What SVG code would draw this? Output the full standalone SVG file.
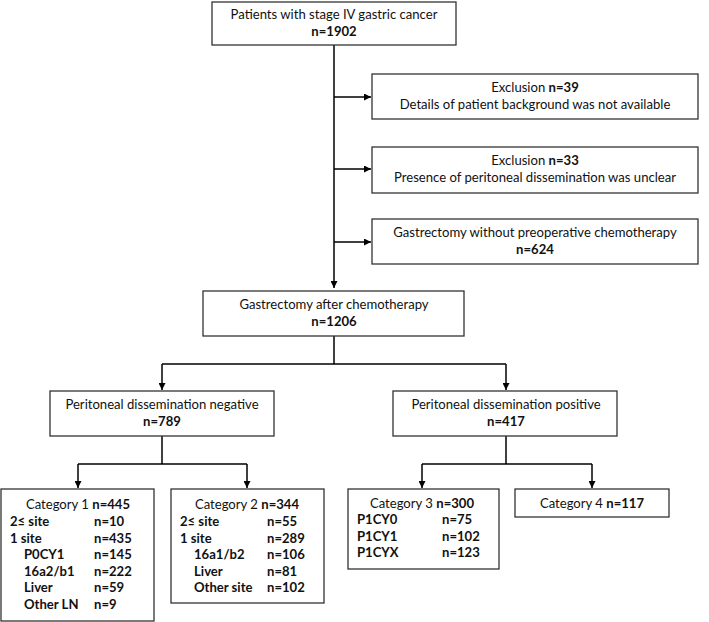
<svg xmlns="http://www.w3.org/2000/svg" width="709" height="622" viewBox="0 0 709 622">
<defs>
<marker id="ah" viewBox="0 0 10 10" refX="10" refY="5" markerWidth="7" markerHeight="7" markerUnits="userSpaceOnUse" orient="auto"><path d="M0,0 L10,5 L0,10 z" fill="#000"/></marker>
<style>
.box{fill:#fff;stroke:#333;stroke-width:1.3}
.ln{fill:none;stroke:#000;stroke-width:1.5}
text{font-family:Lato,"Open Sans",sans-serif;font-size:13.1px;fill:#111}
.c{text-anchor:middle}
.b{font-weight:bold}
</style>
</defs>
<g id="connectors">
<path class="ln" d="M334,45 V288" marker-end="url(#ah)"/>
<path class="ln" d="M334,97 H371" marker-end="url(#ah)"/>
<path class="ln" d="M334,169 H371" marker-end="url(#ah)"/>
<path class="ln" d="M334,242 H371" marker-end="url(#ah)"/>
<path class="ln" d="M334,336 V364"/>
<path class="ln" d="M162,364 H506"/>
<path class="ln" d="M162,364 V390" marker-end="url(#ah)"/>
<path class="ln" d="M506,364 V390" marker-end="url(#ah)"/>
<path class="ln" d="M162,436 V464"/>
<path class="ln" d="M78,464 H247"/>
<path class="ln" d="M78,464 V488" marker-end="url(#ah)"/>
<path class="ln" d="M247,464 V488" marker-end="url(#ah)"/>
<path class="ln" d="M506,436 V464"/>
<path class="ln" d="M422,464 H592"/>
<path class="ln" d="M422,464 V488" marker-end="url(#ah)"/>
<path class="ln" d="M592,464 V488" marker-end="url(#ah)"/>
</g>
<g id="n_top">
<rect class="box" x="212" y="2" width="244" height="43"/>
<text class="c" x="334" y="19">Patients with stage IV gastric cancer</text>
<text class="c b" x="334" y="36">n=1902</text>
</g>
<g id="n_excl1">
<rect class="box" x="372" y="74" width="326" height="45"/>
<text class="c" x="535" y="92">Exclusion <tspan class="b">n=39</tspan></text>
<text class="c" x="535" y="109">Details of patient background was not available</text>
</g>
<g id="n_excl2">
<rect class="box" x="372" y="147" width="326" height="46"/>
<text class="c" x="535" y="165">Exclusion <tspan class="b">n=33</tspan></text>
<text class="c" x="535" y="182">Presence of peritoneal dissemination was unclear</text>
</g>
<g id="n_nochemo">
<rect class="box" x="372" y="219" width="326" height="45"/>
<text class="c" x="535" y="237">Gastrectomy without preoperative chemotherapy</text>
<text class="c b" x="535" y="254">n=624</text>
</g>
<g id="n_after">
<rect class="box" x="203" y="291" width="261" height="45"/>
<text class="c" x="334" y="309">Gastrectomy after chemotherapy</text>
<text class="c b" x="334" y="326">n=1206</text>
</g>
<g id="n_neg">
<rect class="box" x="50" y="391" width="224" height="45"/>
<text class="c" x="162" y="409">Peritoneal dissemination negative</text>
<text class="c b" x="162" y="426">n=789</text>
</g>
<g id="n_pos">
<rect class="box" x="393" y="391" width="224" height="45"/>
<text class="c" x="506" y="409">Peritoneal dissemination positive</text>
<text class="c b" x="506" y="426">n=417</text>
</g>
<g id="n_cat1">
<rect class="box" x="1" y="489" width="153" height="132"/>
<text class="c" x="78" y="509">Category 1 <tspan class="b">n=445</tspan></text>
<text class="b" x="10" y="526">2≤ site</text><text class="b" x="94" y="526">n=10</text>
<text class="b" x="10" y="543">1 site</text><text class="b" x="94" y="543">n=435</text>
<text class="b" x="24" y="559">P0CY1</text><text class="b" x="94" y="559">n=145</text>
<text class="b" x="24" y="576">16a2/b1</text><text class="b" x="94" y="576">n=222</text>
<text class="b" x="24" y="592">Liver</text><text class="b" x="94" y="592">n=59</text>
<text class="b" x="24" y="609">Other LN</text><text class="b" x="94" y="609">n=9</text>
</g>
<g id="n_cat2">
<rect class="box" x="171" y="489" width="153" height="114"/>
<text class="c" x="247" y="509">Category 2 <tspan class="b">n=344</tspan></text>
<text class="b" x="180" y="526">2≤ site</text><text class="b" x="267" y="526">n=55</text>
<text class="b" x="180" y="543">1 site</text><text class="b" x="267" y="543">n=289</text>
<text class="b" x="194" y="559">16a1/b2</text><text class="b" x="267" y="559">n=106</text>
<text class="b" x="194" y="576">Liver</text><text class="b" x="267" y="576">n=81</text>
<text class="b" x="194" y="592">Other site</text><text class="b" x="267" y="592">n=102</text>
</g>
<g id="n_cat3">
<rect class="box" x="348" y="489" width="151" height="80"/>
<text class="c" x="422" y="508">Category 3 <tspan class="b">n=300</tspan></text>
<text class="b" x="357" y="524">P1CY0</text><text class="b" x="442" y="524">n=75</text>
<text class="b" x="357" y="541">P1CY1</text><text class="b" x="442" y="541">n=102</text>
<text class="b" x="357" y="557">P1CYX</text><text class="b" x="442" y="557">n=123</text>
</g>
<g id="n_cat4">
<rect class="box" x="515" y="489" width="154" height="28"/>
<text class="c" x="592" y="508">Category 4 <tspan class="b">n=117</tspan></text>
</g>
</svg>
